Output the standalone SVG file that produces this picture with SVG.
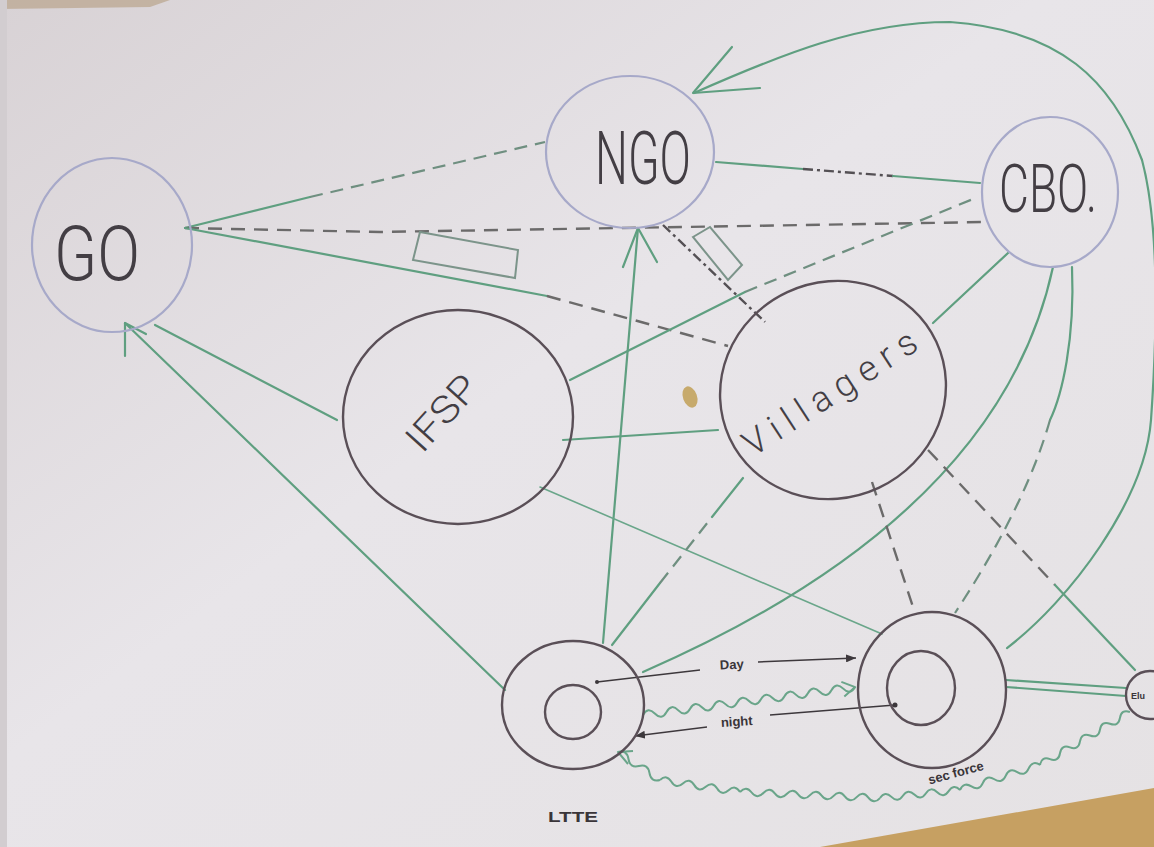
<svg xmlns="http://www.w3.org/2000/svg" width="1154" height="847" viewBox="0 0 1154 847">
<defs>
<linearGradient id="paper" x1="0" y1="0" x2="1" y2="1">
<stop offset="0" stop-color="#d8d2d5"/>
<stop offset="0.45" stop-color="#e8e5e9"/>
<stop offset="1" stop-color="#e5e2e4"/>
</linearGradient>
<marker id="ad" markerUnits="userSpaceOnUse" viewBox="0 0 10 8" refX="10" refY="4" markerWidth="10" markerHeight="8" orient="auto">
<path d="M0,0 L10,4 L0,8 Z" fill="#3d383c"/>
</marker>
<style>
.g{fill:none;stroke:#5f9f80;stroke-width:2.2;stroke-linecap:round;stroke-linejoin:round}
.gt{fill:none;stroke:#6aa68a;stroke-width:1.6;stroke-linecap:round}
.dk{fill:none;stroke:#6b6a6a;stroke-width:2.4;stroke-dasharray:14 9}
.dd{fill:none;stroke:#545054;stroke-width:2.4;stroke-dasharray:10 4 3 4}
.gd{fill:none;stroke:#6f8f80;stroke-width:2.2;stroke-dasharray:13 8}
.bn{fill:none;stroke:#a7a9c9;stroke-width:2.2}
.dn{fill:none;stroke:#5a4f57;stroke-width:2.4}
.ar{fill:none;stroke:#3d383c;stroke-width:1.5}
.t{font-family:Roboto,Inter,"Liberation Sans",sans-serif;font-weight:300;fill:#433e44}
.s{font-family:"Liberation Sans",Arial,sans-serif;font-weight:bold;fill:#3a3539}
.wv{fill:none;stroke:#6aa58a;stroke-width:2;stroke-linejoin:round}
</style>
</defs>

<!-- paper -->
<rect x="0" y="0" width="1154" height="847" fill="url(#paper)"/>
<polygon points="0,0 170,0 150,7 0,9" fill="#b9a48c" opacity="0.7"/>
<rect x="0" y="0" width="7" height="847" fill="#d2cdd0"/>
<polygon points="820,847 1154,788 1154,847" fill="#c6a062"/>
<ellipse cx="690" cy="397" rx="7" ry="11" transform="rotate(-20 690 397)" fill="#c7aa6c"/>

<g id="connectors">
<!-- GO - NGO -->
<path class="g" d="M185,228 L310,197"/>
<path class="gd" d="M310,197 L545,142"/>
<!-- GO - CBO dashed -->
<path class="dk" d="M185,228 L380,232 L985,222"/>
<!-- GO - Villagers -->
<path class="g" d="M185,228 L547,296"/>
<path class="dk" d="M547,296 L728,346"/>
<!-- boxes -->
<polygon points="420,232 518,250 515,278 413,260" fill="none" stroke="#7c948a" stroke-width="2"/>
<polygon points="693,237 710,227 742,265 728,280" fill="none" stroke="#7c948a" stroke-width="2"/>
<!-- NGO - CBO -->
<path class="g" d="M716,162 L803,169"/>
<path class="dd" d="M803,169 L893,176"/>
<path class="g" d="M893,176 L980,183"/>
<!-- NGO - Villagers dash-dot -->
<path class="dd" d="M663,225 L765,322"/>
<!-- IFSP - CBO -->
<path class="g" d="M570,380 L745,292"/>
<path class="gd" d="M745,292 L978,197"/>
<!-- CBO - Villagers -->
<path class="g" d="M1008,253 L933,323"/>
<!-- IFSP - GO -->
<path class="g" d="M337,420 L155,325"/>
<!-- LTTE -> GO -->
<path class="g" d="M505,690 L125,323"/>
<path class="g" d="M125,356 L125,323 L146,334"/>
<!-- LTTE -> NGO -->
<path class="g" d="M603,643 L638,228"/>
<path class="g" d="M623,267 L638,228 L657,262"/>
<!-- IFSP - Villagers -->
<path class="g" d="M563,440 L718,430"/>
<!-- IFSP - sec force -->
<path class="gt" d="M540,487 L882,634"/>
<!-- LTTE - Villagers -->
<path class="g" d="M612,645 L660,583"/>
<path class="gd" d="M660,583 L712,517"/>
<path class="g" d="M712,517 L743,478"/>
<!-- CBO - LTTE curve -->
<path class="g" d="M1053,267 C1020,420 900,560 643,672"/>
<!-- CBO - sec force curve -->
<path class="g" d="M1072,267 C1075,340 1062,395 1050,420"/>
<path class="gd" d="M1050,420 C1030,490 990,560 955,613"/>
<!-- Villagers - sec force -->
<path class="dk" d="M872,482 L915,613"/>
<!-- Villagers - small -->
<path class="dk" d="M928,450 L1055,585"/>
<path class="g" d="M1055,585 L1135,670"/>
<!-- sec force - small double -->
<path class="g" d="M1006,680 L1126,688"/>
<path class="g" d="M1006,687 L1126,696"/>
<!-- big outer curve to NGO -->
<path class="g" d="M1007,648 C1070,600 1145,500 1151,420 C1158,320 1158,220 1142,160 C1112,80 1060,30 950,22 C860,22 780,55 694,93"/>
<path class="g" d="M732,47 L693,93 L760,88"/>
<!-- Day / night -->
<circle cx="597" cy="682" r="2" fill="#3d383c"/>
<path class="ar" d="M597,682 L700,670"/>
<path class="ar" d="M758,662 L856,658" marker-end="url(#ad)"/>
<circle cx="895" cy="705" r="2.5" fill="#3d383c"/>
<path class="ar" d="M895,705 L770,715"/>
<path class="ar" d="M707,727 L635,736" marker-end="url(#ad)"/>
<!-- wave LTTE -> sec force -->
<g transform="translate(643,715) rotate(-7.5)">
<path class="wv" d="M0,0 q5.94,-8 11.88,0 t11.88,0 t11.88,0 t11.88,0 t11.88,0 t11.88,0 t11.88,0 t11.88,0 t11.88,0 t11.88,0 t11.88,0 t11.88,0 t11.88,0 t11.88,0 t11.88,0 t11.88,0 t11.88,0 t11.88,0"/>
<path class="wv" d="M201,-7 L214,0 L202,8"/>
</g>
<!-- wave small -> LTTE (sec force) -->
<g transform="translate(618,752) rotate(33.7)">
<path class="wv" d="M0,0 q6.3,-7 12.6,0 t12.6,0 t12.6,0 t12.6,0"/>
</g>
<g transform="translate(660,780) rotate(8.5)">
<path class="wv" d="M0,0 q5.78,-7 11.56,0 t11.56,0 t11.56,0 t11.56,0 t11.56,0 t11.56,0 t11.56,0"/>
</g>
<g transform="translate(740,792) rotate(2.5)">
<path class="wv" d="M0,0 q5.84,-7 11.68,0 t11.68,0 t11.68,0 t11.68,0 t11.68,0 t11.68,0 t11.68,0 t11.68,0 t11.68,0 t11.68,0 t11.68,0 t11.68,0"/>
</g>
<g transform="translate(880,798) rotate(-5.7)">
<path class="wv" d="M0,0 q5.75,-7 11.5,0 t11.5,0 t11.5,0 t11.5,0 t11.5,0 t11.5,0 t11.5,0"/>
</g>
<g transform="translate(960,790) rotate(-17.4)">
<path class="wv" d="M0,0 q6,-7 12,0 t12,0 t12,0 t12,0 t12,0 t12,0 t12,0"/>
</g>
<g transform="translate(1040,765) rotate(-30.5)">
<path class="wv" d="M0,0 q5.8,-7 11.6,0 t11.6,0 t11.6,0 t11.6,0 t11.6,0 t11.6,0 t11.6,0 t11.6,0 t11.6,0"/>
</g>
<path class="wv" d="M628,764 L618,752 L633,751"/>
</g>

<g id="GO">
<ellipse class="bn" cx="112" cy="245" rx="80" ry="87"/>
<text class="t" x="97" y="280" font-size="76" text-anchor="middle" textLength="86" lengthAdjust="spacingAndGlyphs">GO</text>
</g>
<g id="NGO">
<ellipse class="bn" cx="630" cy="152" rx="84" ry="76"/>
<text class="t" x="643" y="184" font-size="74" text-anchor="middle" textLength="96" lengthAdjust="spacingAndGlyphs">NGO</text>
</g>
<g id="CBO">
<ellipse class="bn" cx="1050" cy="192" rx="68" ry="75"/>
<text class="t" x="1048" y="212" font-size="66" text-anchor="middle" textLength="98" lengthAdjust="spacingAndGlyphs">CBO.</text>
</g>
<g id="IFSP">
<ellipse class="dn" cx="458" cy="417" rx="115" ry="107"/>
<text class="t" transform="translate(442,413) rotate(-48)" x="0" y="13" font-size="38" text-anchor="middle" textLength="88" lengthAdjust="spacingAndGlyphs">IFSP</text>
</g>
<g id="Villagers">
<ellipse class="dn" cx="833" cy="390" rx="114" ry="108" transform="rotate(-25 833 390)"/>
<text class="t" transform="translate(830,393) rotate(-33)" x="0" y="12" font-size="36" text-anchor="middle" textLength="200" lengthAdjust="spacing">Villagers</text>
</g>
<g id="LTTE">
<ellipse class="dn" cx="573" cy="705" rx="71" ry="64"/>
<ellipse class="dn" cx="573" cy="712" rx="28" ry="27"/>
<text class="s" x="573" y="822" font-size="15" text-anchor="middle" textLength="50" lengthAdjust="spacingAndGlyphs">LTTE</text>
</g>
<g id="SecForce">
<ellipse class="dn" cx="932" cy="690" rx="74" ry="78"/>
<ellipse class="dn" cx="921" cy="688" rx="34" ry="37"/>
</g>
<g id="Small">
<circle class="dn" cx="1150" cy="695" r="24"/>
<text class="s" x="1131" y="699" font-size="9">Elu</text>
</g>
<g id="labels">
<text class="s" transform="translate(732,669) rotate(-3)" font-size="13" text-anchor="middle">Day</text>
<text class="s" transform="translate(737,726) rotate(-4)" font-size="13" text-anchor="middle">night</text>
<text class="s" transform="translate(957,777) rotate(-15)" font-size="13" text-anchor="middle">sec force</text>
</g>
</svg>
